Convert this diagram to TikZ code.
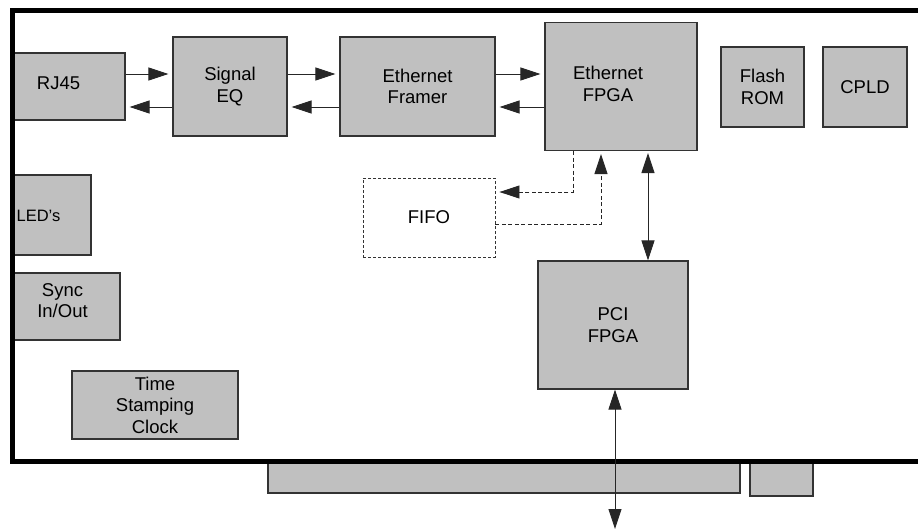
\documentclass[tikz,border=0pt]{standalone}
\usepackage{fontspec}
\setmainfont{Liberation Sans}
\usetikzlibrary{arrows.meta}
\definecolor{blockgray}{HTML}{C0C0C0}
\begin{document}
\begin{tikzpicture}[x=1pt,y=-1pt,
    blk/.style={draw=black!80,line width=1.1pt,fill=blockgray,inner sep=0pt,align=center,
      font=\fontsize{18.5}{21.5}\selectfont},
    txt/.style={inner sep=0pt,align=center,font=\fontsize{18.5}{21.5}\selectfont},
    fifobox/.style={blk,fill=none,dash pattern=on 3pt off 2pt,line width=0.9pt},
    arr/.style={-{Triangle[length=20pt,width=13pt]},line width=0.9pt,draw=black!85,shorten >=4pt},
    darr/.style={arr,dash pattern=on 4pt off 2.5pt},
    arrboth/.style={{Triangle[length=20pt,width=13pt]}-{Triangle[length=20pt,width=13pt]},
      line width=0.9pt,draw=black!85},
    board/.style={line width=5pt,miter limit=10}]
    \useasboundingbox (0,0) rectangle (918,530);

    \node[blk,minimum width=112pt,minimum height=67pt,
      label={[txt,xshift=-10.5pt,yshift=3pt]center:RJ45}] (rj) at (69,86.5) {};
    \node[blk,minimum width=114pt,minimum height=99pt] (eq) at (230,86.5) {Signal\\EQ};
    \node[blk,minimum width=155pt,minimum height=99pt] (framer) at (417.5,86.5) {Ethernet\\Framer};
    \node[blk,minimum width=152pt,minimum height=128pt,
      label={[txt,xshift=-13pt,yshift=2.5pt]center:Ethernet\\FPGA}] (efpga) at (621,86.5) {};
    \node[blk,minimum width=83pt,minimum height=80pt] (flash) at (762.5,87) {Flash\\ROM};
    \node[blk,minimum width=84pt,minimum height=80pt] (cpld) at (865,87) {CPLD};
    \node[fifobox,minimum width=132pt,minimum height=79pt] (fifo) at (429,217.5) {FIFO};
    \node[blk,minimum width=78pt,minimum height=80pt,
      label={[txt,anchor=west,xshift=4pt,yshift=-1pt,font=\fontsize{16.5}{20}\selectfont]west:LED’s}] (led) at (52,215) {};
    \node[blk,minimum width=107pt,minimum height=67pt,
      label={[txt,xshift=-4pt,yshift=6pt]center:Sync\\In/Out}] (sync) at (66.5,306.5) {};
    \node[blk,minimum width=166pt,minimum height=68pt] (clock) at (155,405) {Time\\Stamping\\Clock};
    \node[blk,minimum width=150pt,minimum height=128pt] (pci) at (613,325) {PCI\\FPGA};
    \node[blk,minimum width=472pt,minimum height=32pt] (edge) at (504,477) {};
    \node[blk,minimum width=63pt,minimum height=35pt] (tab) at (781.5,478.5) {};

    \draw[board] (918,10) -- (12,10) -- (12,461) -- (918,461);

    \draw[arr] ([yshift=12.5pt]rj.east) -- ([yshift=12.5pt]eq.west);
    \draw[arr] ([yshift=-20.5pt]eq.west) -- ([yshift=-20.5pt]rj.east);
    \draw[arr] ([yshift=12.5pt]eq.east) -- ([yshift=12.5pt]framer.west);
    \draw[arr] ([yshift=-20.5pt]framer.west) -- ([yshift=-20.5pt]eq.east);
    \draw[arr] ([yshift=12.5pt]framer.east) -- ([yshift=12.5pt]efpga.west);
    \draw[arr] ([yshift=-20.5pt]efpga.west) -- ([yshift=-20.5pt]framer.east);

    \draw[darr] ([xshift=-48pt]efpga.south) |- ([yshift=25.5pt]fifo.east);
    \draw[darr,shorten >=3pt] ([yshift=-6.5pt]fifo.east) -| ([xshift=-20pt]efpga.south);

    \draw[arrboth,shorten <=2pt] ([xshift=27pt]efpga.south) -- ([xshift=35pt]pci.north);
    \coordinate (bus) at (615,529);
    \draw[arrboth] ([xshift=2pt]pci.south) -- (bus);
\end{tikzpicture}
\end{document}
